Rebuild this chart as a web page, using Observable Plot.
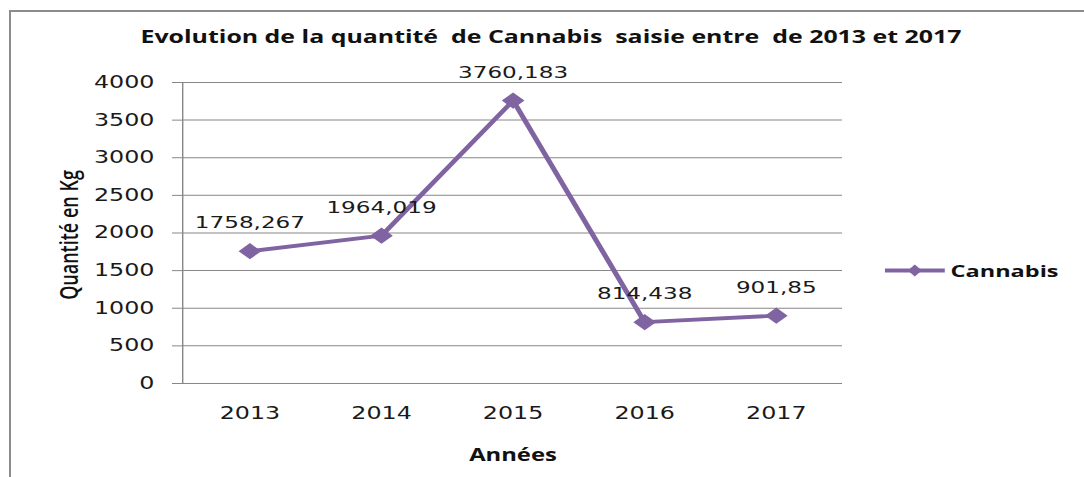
<!DOCTYPE html>
<html>
<head>
<meta charset="utf-8">
<script src="https://cdn.jsdelivr.net/npm/d3@7"></script>
<script src="https://cdn.jsdelivr.net/npm/@observablehq/plot@0.6"></script>
<style>
  html, body { margin: 0; padding: 0; background: #fff; }
  #root { position: relative; width: 1084px; height: 477px; overflow: hidden; background: #fff; }
  #stage { position: absolute; left: 0; top: 0; height: 477px; transform-origin: 0 0; }
  #border { position: absolute; left: 9px; top: 10px; width: 1200px; height: 600px; border: 2px solid #8c8c8c; box-sizing: border-box; }
  .lbl { position: absolute; white-space: pre; color: #111; font-family: "Open Sans", "Noto Sans", sans-serif; }
  #title { font-weight: 700; font-size: 17.8px; transform: translate(-50%, -50%); }
  #ylabel { font-weight: 600; font-size: 18px; transform: translate(-50%, -50%) rotate(-90deg); }
  #xlabel { font-weight: 700; font-size: 17px; transform: translate(-50%, -50%); }
  #legend { display: flex; align-items: center; transform: translateY(-50%); }
  #legend span { font-weight: 700; font-size: 16.8px; margin-left: 4px; }
</style>
</head>
<body>
<div id="root">
  <div id="stage"></div>
  <div id="border"></div>
</div>
<script>
// ---- data ----
const years = ["2013", "2014", "2015", "2016", "2017"];
const cannabisKg = [1758.267, 1964.019, 3760.183, 814.438, 901.85];
const yTicks = [0, 500, 1000, 1500, 2000, 2500, 3000, 3500, 4000];
const seriesName = "Cannabis";
const titleText = "Evolution de la quantité  de Cannabis  saisie entre  de 2013 et 2017";
const yLabelText = "Quantité en Kg";
const xLabelText = "Années";

// ---- layout (horizontal stretch of the original picture) ----
const S = 1.4;
const W = 1084 / S;
const purple = "#8064A2";
const gridGray = "#878787";

const data = years.map((year, i) => ({
  year,
  value: cannabisKg[i],
  label: String(cannabisKg[i]).replace(".", ",")
}));

const stage = document.getElementById("stage");
stage.style.width = W + "px";
stage.style.transform = `scaleX(${S})`;

const chart = Plot.plot({
  width: W,
  height: 477,
  marginLeft: 182 / S,
  marginRight: (1084 - 842) / S,
  marginTop: 82,
  marginBottom: 477 - 383,
  style: { background: "transparent", fontFamily: "'DejaVu Sans', Verdana, sans-serif" },
  x: { type: "point", domain: years, padding: 0.5, axis: null },
  y: { domain: [0, 4000], axis: null },
  marks: [
    Plot.gridY(yTicks, { stroke: gridGray, strokeOpacity: 1, strokeWidth: 1 }),
    Plot.axisY(yTicks, { tickSize: 10 / S, tickPadding: 13, fontSize: 17, stroke: gridGray, fill: "#1a1a1a", label: null, tickFormat: d => String(d) }),
    Plot.axisX({ tickSize: 0, tickPadding: 23, fontSize: 17, fill: "#1a1a1a", label: null }),
    Plot.frame({ anchor: "left", stroke: gridGray }),
    Plot.ruleY([0], { stroke: gridGray }),
    Plot.line(data, { x: "year", y: "value", stroke: purple, strokeWidth: 3.8 }),
    Plot.dot(data, { x: "year", y: "value", symbol: "diamond2", r: 7.3, fill: purple, stroke: null }),
    Plot.text(data, { x: "year", y: "value", text: "label", dy: -28, fontSize: 16.5, fill: "#1a1a1a" })
  ]
});
stage.appendChild(chart);

function addLabel(id, text, left, top) {
  const d = document.createElement("div");
  d.className = "lbl";
  d.id = id;
  d.textContent = text;
  d.style.left = left + "px";
  d.style.top = top + "px";
  stage.appendChild(d);
  return d;
}
addLabel("title", titleText, 551 / S, 36);
addLabel("ylabel", yLabelText, 69 / S, 235);
addLabel("xlabel", xLabelText, 513 / S, 454);

// legend
const legend = document.createElement("div");
legend.className = "lbl";
legend.id = "legend";
legend.style.left = (885 / S) + "px";
legend.style.top = "270px";
const sw = d3.create("svg").attr("width", 60 / S).attr("height", 16);
sw.append("line").attr("x1", 0).attr("x2", 60 / S).attr("y1", 8).attr("y2", 8)
  .attr("stroke", purple).attr("stroke-width", 3.8);
sw.append("path").attr("transform", `translate(${30 / S},8)`)
  .attr("d", "M0,-6L5,0L0,6L-5,0Z").attr("fill", purple);
legend.appendChild(sw.node());
const sp = document.createElement("span");
sp.textContent = seriesName;
legend.appendChild(sp);
stage.appendChild(legend);
</script>
</body>
</html>
